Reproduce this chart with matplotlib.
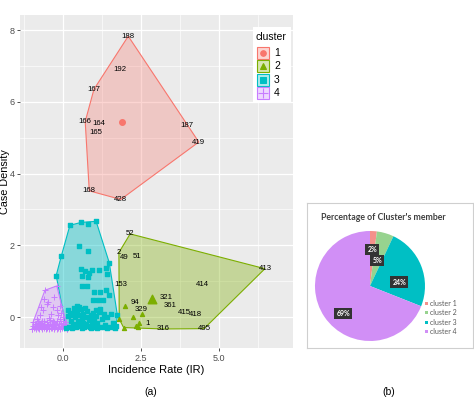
import matplotlib
matplotlib.use("Agg")
import matplotlib.pyplot as plt
from matplotlib.patches import Polygon, Rectangle
import numpy as np

# ---------------- data ----------------
c1_labels = ["188", "192", "167", "166", "164", "165", "187", "419", "168", "428"]
c1_x = [2.09, 1.81, 0.99, 0.71, 1.15, 1.06, 3.96, 4.35, 0.84, 1.85]
c1_y = [7.83, 6.91, 6.35, 5.45, 5.41, 5.15, 5.33, 4.88, 3.52, 3.28]
c1_center = [1.89, 5.45]

c2_labels = ["52", "2", "49", "51", "413", "414", "153", "321", "361", "94",
             "329", "415", "418", "1", "316", "495"]
c2_x = [2.15, 1.79, 1.96, 2.36, 6.47, 4.47, 1.85, 3.32, 3.44, 2.31,
        2.51, 3.89, 4.25, 2.71, 3.22, 4.52]
c2_y = [2.32, 1.80, 1.66, 1.69, 1.35, 0.91, 0.91, 0.56, 0.32, 0.40,
        0.21, 0.13, 0.08, -0.19, -0.33, -0.32]
c2_pts_x = [1.97, 2.23, 2.52, 2.45, 2.34, 1.94, 1.80, 2.40]
c2_pts_y = [0.32, -0.01, 0.10, -0.17, -0.25, -0.29, -0.05, -0.28]
c2_center = [2.86, 0.50]

c3_x = [0.22, 0.58, 0.80, 1.06, 1.48, 1.40, 1.74, 1.67, -0.22, -0.06,
        0.52, 0.79, 0.58, 0.71, 0.84, 0.94, 1.15, 0.81, 0.61, 1.38,
        0.99, 1.19, 1.38, 1.46, 0.95, 1.13, 1.27, 1.06, 1.19, 0.61, 0.78,
        0.17, 0.22, 0.25, 0.20, 0.30, 0.33, 0.38, 0.42, 0.45, 0.48,
        0.52, 0.55, 0.58, 0.62, 0.65, 0.68, 0.72, 0.75, 0.78, 0.82,
        0.85, 0.88, 0.92, 0.95, 0.98, 1.02, 1.05, 1.10, 1.15, 1.20,
        1.25, 1.30, 1.35, 1.42, 1.50, 1.55, 1.60, 1.70, 0.10, 0.28,
        0.60, 0.90, 1.10, 1.40, 0.35, 0.50, 0.70, 0.40, 0.65, 1.00,
        1.32, 1.62, 0.15, 0.45, 0.80]
c3_y = [2.56, 2.64, 2.60, 2.67, 1.52, 1.20, 0.06, -0.30, 1.16, 1.69,
        1.97, 1.84, 1.35, 1.28, 1.23, 1.32, 1.31, 1.12, 1.14, 1.37,
        0.70, 0.70, 0.77, 0.63, 0.47, 0.47, 0.49, 0.21, 0.24, 0.86, 0.86,
        0.20, 0.05, -0.10, -0.28, 0.12, -0.20, 0.00, -0.28, 0.15, -0.12,
        0.05, -0.25, 0.22, -0.05, 0.10, -0.28, 0.00, -0.18, 0.18, -0.08,
        -0.28, 0.05, -0.20, 0.12, -0.05, -0.28, 0.02, -0.15, 0.15, -0.28,
        -0.05, 0.08, -0.22, 0.00, -0.28, 0.10, -0.15, -0.25, -0.30, -0.30,
        -0.30, -0.30, -0.30, -0.30, 0.25, 0.28, 0.25, -0.22, -0.15, -0.18,
        -0.28, -0.28, 0.02, 0.32, -0.25]

c4_x = [-0.98, -0.58, -0.20, 0.14, -0.52, -0.47, -0.63, -0.33, -0.20, -0.75,
        -0.40, -0.10, -0.60, -0.30, -0.15, -0.85, 0.00, -0.70, -0.45, -0.05,
        -0.98, -0.95, -0.92, -0.90, -0.88, -0.85, -0.82, -0.80, -0.78, -0.75,
        -0.72, -0.70, -0.68, -0.65, -0.62, -0.60, -0.58, -0.55, -0.52, -0.50,
        -0.48, -0.45, -0.42, -0.40, -0.38, -0.35, -0.32, -0.30, -0.28, -0.25,
        -0.22, -0.20, -0.18, -0.15, -0.12, -0.10, -0.08, -0.05, -0.02, 0.00,
        0.03, 0.06, 0.09, 0.12,
        -0.96, -0.91, -0.86, -0.81, -0.76, -0.71, -0.66, -0.61, -0.56, -0.51,
        -0.46, -0.41, -0.36, -0.31, -0.26, -0.21, -0.16, -0.11, -0.06, -0.01,
        0.04, 0.08, 0.11]
c4_y = [-0.33, 0.75, 0.87, -0.33, 0.38, 0.43, 0.19, 0.27, 0.19, 0.05,
        0.10, 0.30, 0.50, 0.55, 0.05, -0.05, 0.00, 0.28, -0.02, 0.12,
        -0.33, -0.25, -0.30, -0.18, -0.32, -0.22, -0.28, -0.12, -0.33, -0.20,
        -0.27, -0.15, -0.32, -0.22, -0.30, -0.10, -0.26, -0.33, -0.18, -0.29,
        -0.22, -0.32, -0.08, -0.26, -0.31, -0.18, -0.24, -0.33, -0.14, -0.28,
        -0.21, -0.32, -0.12, -0.27, -0.20, -0.33, -0.16, -0.25, -0.30, -0.22,
        -0.31, -0.18, -0.27, -0.32,
        -0.14, -0.27, -0.20, -0.31, -0.16, -0.24, -0.10, -0.19, -0.28, -0.14,
        -0.26, -0.20, -0.29, -0.12, -0.23, -0.10, -0.30, -0.06, -0.20, -0.12,
        -0.24, -0.14, -0.22]

legend_labels = ["1", "2", "3", "4"]

pie_labels = ["cluster 1", "cluster 2", "cluster 3", "cluster 4"]
pie_pct = [2, 5, 24, 69]

# ---------------- style ----------------
cols = ["#F8766D", "#7CAE00", "#00BFC4", "#C77CFF"]
pie_cols = ["#F4918B", "#97D38F", "#00BFC4", "#D18FF6"]
FONT = "Liberation Sans"
plt.rcParams["font.family"] = [FONT, "DejaVu Sans"]


def hull(xs, ys):
    pts = sorted(set(zip(xs, ys)))
    def cross(o, a, b):
        return (a[0]-o[0])*(b[1]-o[1]) - (a[1]-o[1])*(b[0]-o[0])
    lower, upper = [], []
    for p in pts:
        while len(lower) >= 2 and cross(lower[-2], lower[-1], p) <= 0:
            lower.pop()
        lower.append(p)
    for p in reversed(pts):
        while len(upper) >= 2 and cross(upper[-2], upper[-1], p) <= 0:
            upper.pop()
        upper.append(p)
    return np.array(lower[:-1] + upper[:-1])


fig = plt.figure(figsize=(4.74, 3.97), dpi=100)

# pie panel background box (drawn first, behind everything)
bg = fig.add_axes([307/474, 1-348/397, 166/474, 145/397], zorder=-5)
bg.set_xticks([])
bg.set_yticks([])
for s in bg.spines.values():
    s.set_color("#CFCFCF")
    s.set_linewidth(0.8)

ax = fig.add_axes([20/474, 1-348/397, 273/474, 333/397])
ax.set_facecolor("#EBEBEB")
ax.set_xlim(-1.38, 7.37)
ax.set_ylim(-0.86, 8.42)
ax.set_xticks([0, 2.5, 5.0])
ax.set_xticklabels(["0.0", "2.5", "5.0"])
ax.set_yticks([0, 2, 4, 6, 8])
ax.set_xticks([-1.25, 1.25, 3.75, 6.25], minor=True)
ax.set_yticks([1, 3, 5, 7], minor=True)
ax.grid(True, which="major", color="white", linewidth=0.9)
ax.grid(True, which="minor", color="white", linewidth=0.45)
ax.set_axisbelow(True)
for s in ax.spines.values():
    s.set_visible(False)
ax.tick_params(which="major", length=2.5, width=0.6, color="#333333",
               labelsize=6.5, labelcolor="#4D4D4D", pad=1.5)
ax.tick_params(which="minor", length=0)
ax.set_xlabel("Incidence Rate (IR)", fontsize=8, labelpad=2)
ax.set_ylabel("Case Density", fontsize=7.8, labelpad=0)
ax.yaxis.set_label_coords(-0.035, 0.5)

groups = [
    (c1_x + [c1_center[0]], c1_y + [c1_center[1]]),
    (c2_x + c2_pts_x, c2_y + c2_pts_y),
    (c3_x, c3_y),
    (c4_x, c4_y),
]
alphas = [0.3, 0.35, 0.42, 0.3]
for (gx, gy), c, a in zip(groups, cols, alphas):
    h = hull(gx, gy)
    ax.add_patch(Polygon(h, closed=True, facecolor=c, alpha=a, edgecolor="none", zorder=1))
    ax.add_patch(Polygon(h, closed=True, facecolor="none", edgecolor=c, linewidth=0.8, zorder=2))

# points
ax.scatter(c4_x, c4_y, marker="+", s=22, color=cols[3], linewidths=0.7, zorder=3)
ax.scatter(c3_x, c3_y, marker="s", s=7, color=cols[2], zorder=3)
ax.scatter(c2_pts_x, c2_pts_y, marker="^", s=8, color=cols[1], zorder=3)
ax.scatter([c2_center[0]], [c2_center[1]], marker="^", s=38, color=cols[1], zorder=3)
ax.scatter([c1_center[0]], [c1_center[1]], marker="o", s=16, color=cols[0], zorder=3)
for lab, x, y in zip(c1_labels, c1_x, c1_y):
    ax.text(x, y, lab, fontsize=5.6, ha="center", va="center", zorder=4)
for lab, x, y in zip(c2_labels, c2_x, c2_y):
    ax.text(x, y, lab, fontsize=5.6, ha="center", va="center", zorder=4)

# legend (ggplot style)
lx0, lx1 = (253-20)/273, (291-20)/273
ly_top, ly_bot = 1-(27-15)/333, 1-(103-15)/333
ax.add_patch(Rectangle((lx0, ly_bot), lx1-lx0, ly_top-ly_bot, transform=ax.transAxes,
                       facecolor="white", edgecolor="none", zorder=5, clip_on=False))
ax.text((256-20)/273, 1-(37-15)/333, "cluster", transform=ax.transAxes,
        fontsize=7.5, ha="left", va="center", zorder=6)
markers = ["o", "^", "s", "+"]
kw, kh = 12/273, 12/333
for i, (lab, c, m) in enumerate(zip(legend_labels, cols, markers)):
    cy = 1-((53 + 13.3*i) - 15)/333
    cx = (263-20)/273
    ax.add_patch(Rectangle((cx-kw/2, cy-kh/2), kw, kh, transform=ax.transAxes,
                           facecolor=c, alpha=0.3, edgecolor="none", zorder=6, clip_on=False))
    ax.add_patch(Rectangle((cx-kw/2, cy-kh/2), kw, kh, transform=ax.transAxes,
                           facecolor="none", edgecolor=c, linewidth=0.8, zorder=6, clip_on=False))
    ax.plot([cx], [cy], marker=m, color=c, markersize=4 if m != "+" else 7,
            markeredgewidth=0.8, transform=ax.transAxes, zorder=7, clip_on=False)
    ax.text((274-20)/273, cy, lab, transform=ax.transAxes, fontsize=7.5,
            ha="left", va="center", zorder=7)

fig.text(151/474, 1-392/397, "(a)", fontsize=7.5, ha="center", va="center")
fig.text(389/474, 1-392/397, "(b)", fontsize=7.5, ha="center", va="center")

# ---------------- pie panel ----------------
fig.text(383/474, 1-217/397, "Percentage of Cluster's member", fontsize=6.3,
         fontweight="bold", color="#404040", ha="center", va="center", family="Lato")

pax = fig.add_axes([315/474, 1-341/397, 110/474, 110/397])
wedges, _ = pax.pie(pie_pct, colors=pie_cols, startangle=90, counterclock=False,
                    wedgeprops=dict(linewidth=0))
pax.set_xlim(-1.0, 1.0)
pax.set_ylim(-1.0, 1.0)
pax.set_aspect("equal")
radii = [0.67, 0.48, 0.54, 0.70]
ang_off = [0, 0, -14, 12]
for w, p, r, d in zip(wedges, pie_pct, radii, ang_off):
    ang = np.deg2rad((w.theta1 + w.theta2) / 2 + d)
    pax.text(r*np.cos(ang), r*np.sin(ang), f"{p}%", fontsize=5, fontweight="bold",
             color="white", ha="center", va="center", family="Lato",
             bbox=dict(boxstyle="square,pad=0.3", facecolor="#333333", edgecolor="none"))

for i, (lab, c) in enumerate(zip(pie_labels, pie_cols)):
    yy = 1-(303.5 + 9.3*i)/397
    fig.patches.append(Rectangle((425/474, yy-1.6/397), 3.2/474, 3.2/397,
                                 transform=fig.transFigure, facecolor=c, edgecolor="none"))
    fig.text(430/474, yy, lab, fontsize=5, color="#595959", ha="left", va="center",
             family="Lato")

fig.savefig("out.png", dpi=100)
